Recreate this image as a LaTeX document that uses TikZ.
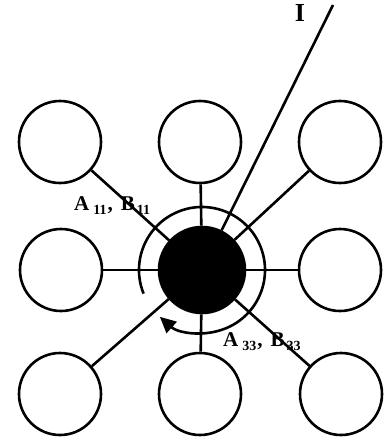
\documentclass[tikz,border=0pt]{standalone}
\usepackage{fontspec}
\setmainfont{Liberation Serif}
\usetikzlibrary{arrows.meta}
\newcommand\lowsub[1]{\raisebox{-4pt}{\fontsize{14}{14}\selectfont #1}}
\begin{document}
\begin{tikzpicture}[x=1pt,y=-1pt,
  ring/.style={circle,draw,line width=2.6pt,minimum size=82pt,inner sep=0pt},
  coredisk/.style={circle,fill=black,draw,line width=2.6pt,minimum size=86pt,inner sep=0pt},
  conn/.style={line width=2.6pt},
  lbl/.style={inner sep=0pt,font=\fontsize{21}{23}\selectfont\bfseries}]
\useasboundingbox (0,0) rectangle (384,447);
\node[ring] (c11) at (60,142) {};
\node[ring] (c12) at (200,142) {};
\node[ring] (c13) at (340,142) {};
\node[ring] (c21) at (61,270) {};
\node[ring] (c23) at (340,270) {};
\node[ring] (c31) at (60,394) {};
\node[ring] (c32) at (200,394) {};
\node[ring] (c33) at (341,394) {};
\node[coredisk] (core) at (202,270) {};
\foreach \c in {c11,c12,c13,c21,c23,c31,c32,c33}
  \draw[conn] (\c) -- (core);
\draw[conn,-{Triangle[length=16pt,width=15pt]}] (core.center) ++(158:63) arc[start angle=158,end angle=492,radius=63];
\coordinate (itop) at (333,5);
\draw[conn] (itop) -- (core);
\node[lbl,font=\fontsize{26}{28}\selectfont\bfseries] (ilabel) at (300,13) {I};
\node[lbl,anchor=west] (a11) at (74,206) {A\hspace{4pt}\lowsub{11}\hspace{1pt},\hspace{8pt}B\hspace{2pt}\lowsub{11}};
\node[lbl,anchor=west] (a33) at (223,342) {A\hspace{4pt}\lowsub{33}\hspace{1pt},\hspace{8pt}B\hspace{2pt}\lowsub{33}};
\end{tikzpicture}
\end{document}
